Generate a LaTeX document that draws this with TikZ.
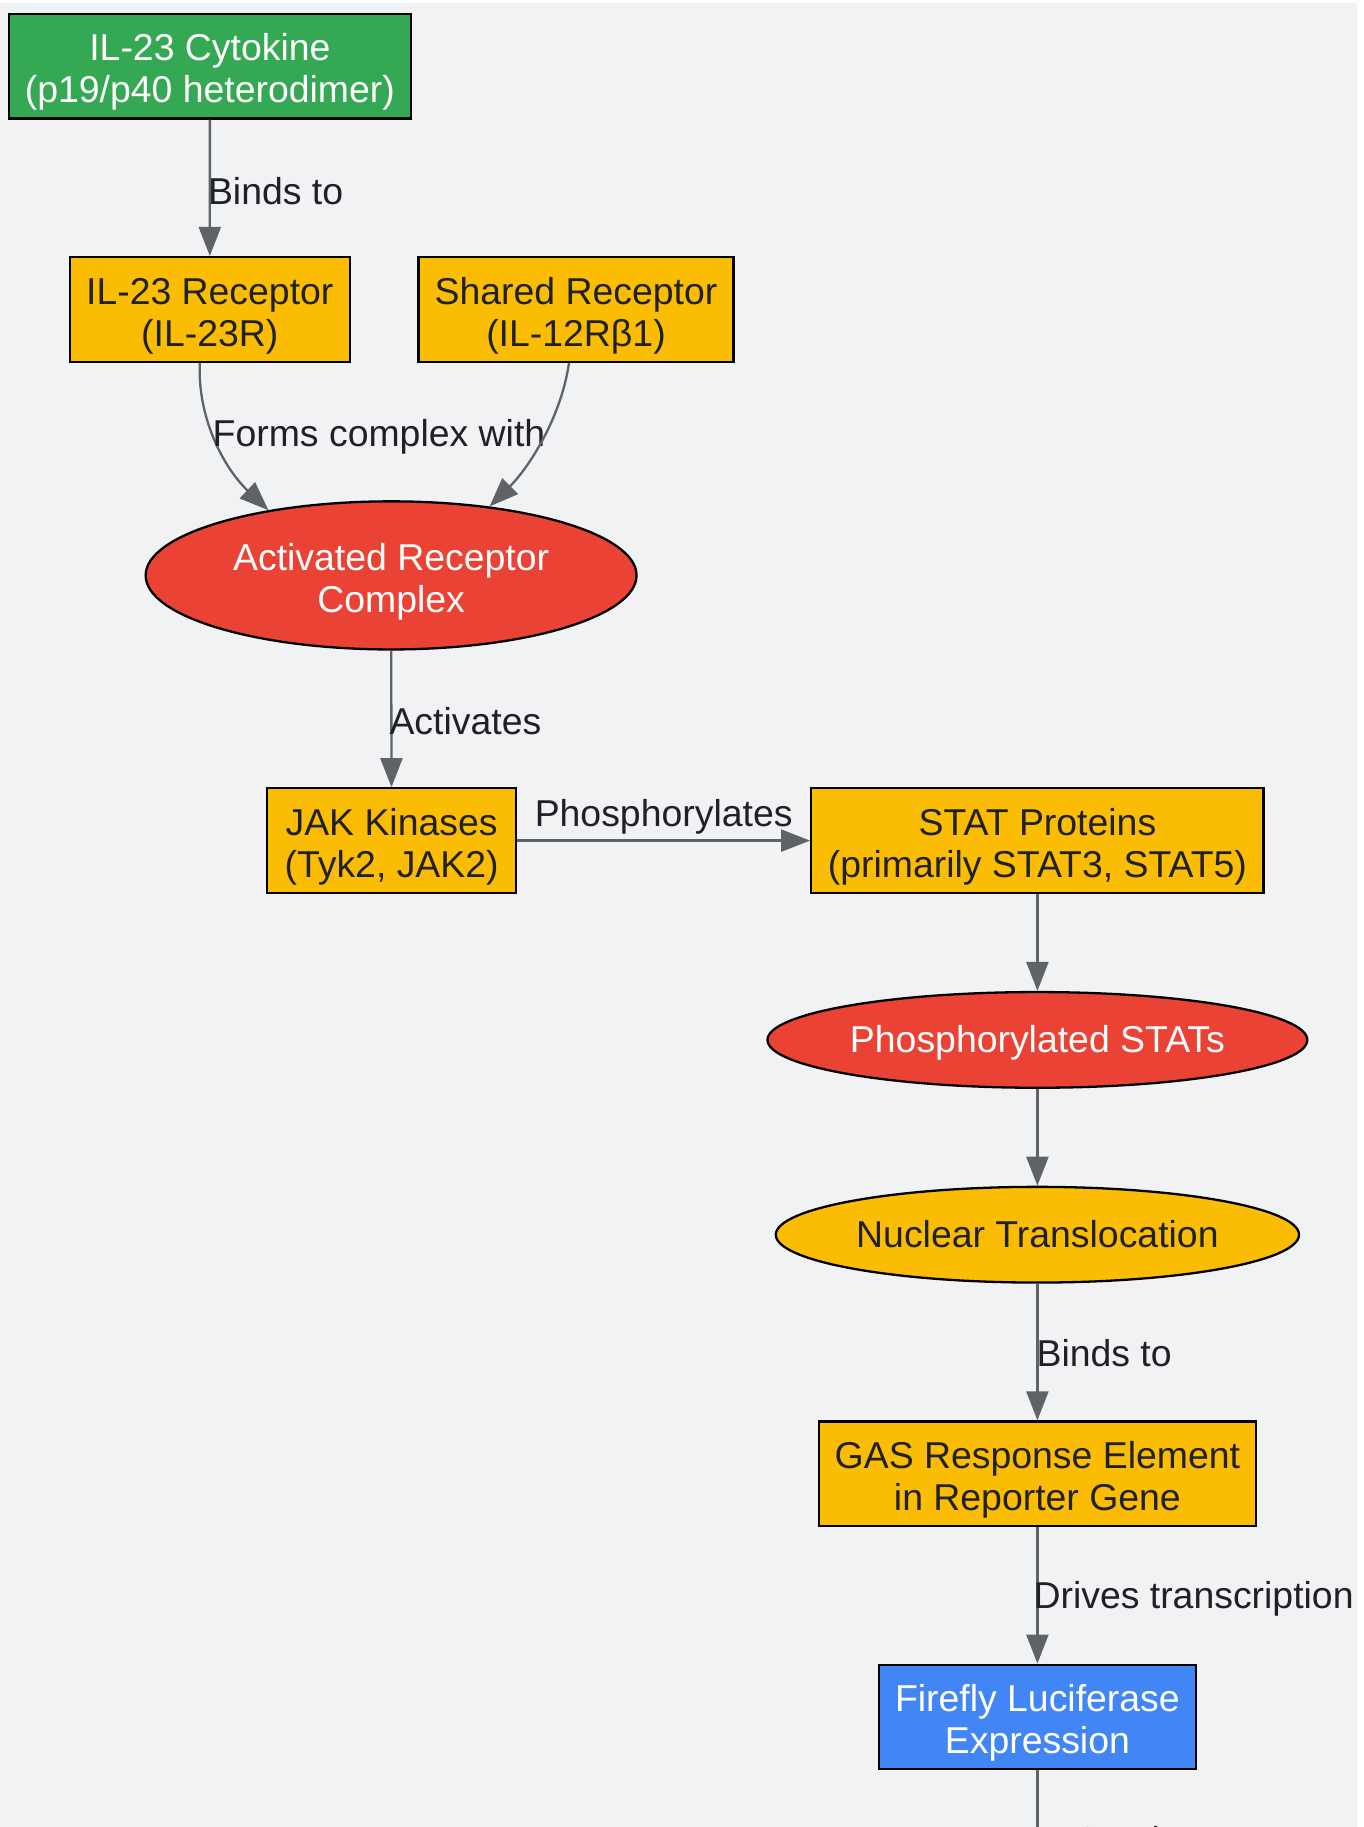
\documentclass[tikz,border=0pt]{standalone}
\usepackage{fontspec}
\setmainfont{Liberation Sans}
\usepackage{tikz}
\usetikzlibrary{arrows.meta, calc, shapes.geometric}
\definecolor{bggray}{HTML}{F1F2F4}
\definecolor{gnode}{HTML}{34A853}
\definecolor{ynode}{HTML}{FBBC04}
\definecolor{rnode}{HTML}{EA4335}
\definecolor{bnode}{HTML}{4285F4}
\definecolor{edgegray}{HTML}{5F6368}
\definecolor{inktext}{HTML}{202124}
\newcommand{\nodestrut}{\rule[-7.9pt]{0pt}{41.7pt}}
\newcommand{\topstrut}{\rule{0pt}{39pt}}

\begin{document}
\begin{tikzpicture}[x=1pt, y=-1pt,
  every node/.style={font=\fontsize{37.4}{42}\selectfont, text=inktext},
  box/.style={draw=black, line width=2.3pt, rectangle, align=center, inner sep=0pt, minimum height=104.6pt},
  oval/.style={draw=black, line width=2.3pt, ellipse, align=center, inner sep=0pt},
  link/.style={draw=edgegray, line width=2.3pt, -{Triangle[length=29pt, width=22pt]}},
  lbl/.style={inner sep=0pt}]
\useasboundingbox (0,0) rectangle (1363,1827);
\fill[white] (0,0) rectangle (1363,1827);
\fill[bggray] (0,3) rectangle (1357,1827);
\node[box, fill=gnode, text=white, minimum width=401.6pt] (cyto) at (209.9,66.3) {\topstrut IL-23 Cytokine\\(p19/p40 heterodimer)};
\node[box, fill=ynode, minimum width=280pt] (il23r) at (209.8,309.4) {\topstrut IL-23 Receptor\\(IL-23R)};
\node[box, fill=ynode, minimum width=315pt] (shared) at (576,309.4) {\topstrut Shared Receptor\\(IL-12Rβ1)};
\node[oval, fill=rnode, text=white, minimum width=490.9pt, minimum height=148.1pt] (act) at (391.1,575.4) {\topstrut Activated Receptor\\Complex};
\node[box, fill=ynode, minimum width=249pt] (jak) at (391.6,840.6) {\topstrut JAK Kinases\\(Tyk2, JAK2)};
\node[box, fill=ynode, minimum width=452.4pt] (stat) at (1037.4,840.6) {\topstrut STAT Proteins\\(primarily STAT3, STAT5)};
\node[oval, fill=rnode, text=white, minimum width=539.8pt, minimum height=95.7pt] (pstat) at (1037.4,1039.9) {\nodestrut Phosphorylated STATs};
\node[oval, fill=ynode, minimum width=523.2pt, minimum height=95.7pt] (nuc) at (1037.4,1234.7) {\nodestrut Nuclear Translocation};
\node[box, fill=ynode, minimum width=437.2pt] (gas) at (1037.4,1473.8) {\topstrut GAS Response Element\\in Reporter Gene};
\node[box, fill=bnode, text=white, minimum width=316.9pt] (luc) at (1037.4,1717) {\topstrut Firefly Luciferase\\Expression};
\coordinate (offpage) at (1037.4,1960);

\draw[link] (cyto) -- node[lbl, anchor=west, xshift=-3pt, yshift=-3pt] {Binds to} (il23r);
\draw[link] ($(il23r.south)+(-10,0)$) .. controls (197.3,418.5) and (224.2,468.4) .. (act.152)
  node[lbl, pos=0.5, anchor=west, xshift=-5pt, yshift=5pt] {Forms complex with};
\draw[link] ($(shared.south)+(-7,0)$) .. controls (561,418.5) and (528.1,468.4) .. (act.35);
\draw[link] (act) -- node[lbl, anchor=west, xshift=-3pt, yshift=-2pt] {Activates} (jak);
\draw[link] (jak) -- node[lbl, above=5pt] {Phosphorylates} (stat);
\draw[link] (stat) -- (pstat);
\draw[link] (pstat) -- (nuc);
\draw[link] (nuc) -- node[lbl, anchor=west, xshift=-2pt, yshift=-1pt] {Binds to} (gas);
\draw[link] (gas) -- node[lbl, anchor=west, xshift=-5pt, yshift=-3pt] {Drives transcription} (luc);
\draw[link] (luc) -- node[lbl, pos=0.287, anchor=north west, xshift=34pt] {Catalyzes} (offpage);
\end{tikzpicture}
\end{document}
